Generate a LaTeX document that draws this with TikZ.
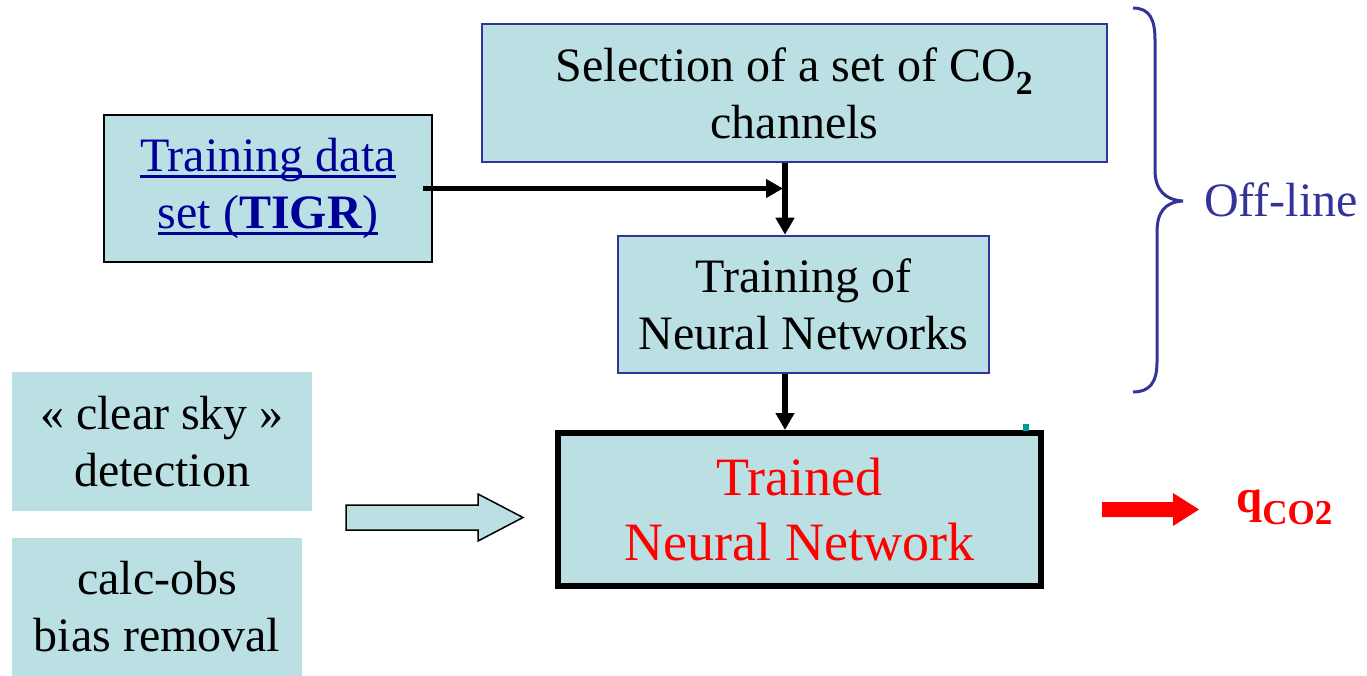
\documentclass[tikz,border=0pt]{standalone}
\usepackage{fontspec}
\setmainfont{Liberation Serif}
\usetikzlibrary{arrows.meta}
\definecolor{boxfill}{RGB}{186,224,228}
\definecolor{boxblue}{RGB}{51,51,153}
\definecolor{linkblue}{RGB}{0,0,153}
\definecolor{tealmark}{RGB}{0,153,153}
\newcommand{\myul}[1]{\setbox0\hbox{#1}\rlap{\rule[-6.5pt]{\wd0}{3pt}}\box0}
\begin{document}
\begin{tikzpicture}[x=1pt,y=-1pt,
  box/.style={draw=boxblue, line width=2.5pt, fill=boxfill, inner sep=0pt, align=center,
    font=\fontsize{48}{57}\selectfont, text=black},
  flow/.style={line width=5.5pt, -{Triangle[length=17pt,width=18pt]}},
  blockarrow/.style={line width=1.5pt, draw=black, fill=boxfill, line join=miter}]
\useasboundingbox (0,0) rectangle (1367,676);

\node[box, draw=black, line width=2pt, minimum width=328pt, minimum height=147pt, text=linkblue]
  (tigr) at (268,188.5) {\myul{Training data}\\\myul{set (\textbf{TIGR})}};
\node[box, minimum width=625pt, minimum height=138pt]
  (sel) at (794.5,93) {Selection of a set of CO\textsubscript{\textbf{2}}\\channels};
\node[box, minimum width=371pt, minimum height=137pt]
  (train) at (803.5,304.5) {Training of\\Neural Networks};
\node[box, draw=black, line width=6pt, minimum width=483pt, minimum height=153pt, text=red,
  font=\fontsize{54}{65}\selectfont]
  (trained) at (799.5,509.5) {Trained\\Neural Network};
\node[box, draw=none, minimum width=300pt, minimum height=139pt]
  (sky) at (162,441.5) {« clear sky »\\detection};
\node[box, draw=none, minimum width=290pt, minimum height=138pt]
  (bias) at (157,607) {calc-obs\\bias removal};

\coordinate (ax) at (785,0);
\draw[flow, shorten >=2pt] ([xshift=-10pt]tigr.east) -- (tigr.east -| ax);
\draw[flow] (sel.south -| ax) -- (train.north -| ax);
\draw[flow] (train.south -| ax) -- (trained.north -| ax);

% hollow block arrow
\draw[blockarrow] (346,505) -- (478,505) -- (478,494) -- (523,517.5) -- (478,541) -- (478,530) -- (346,530) -- cycle;

% red block arrow
\fill[red] (1102,502) -- (1173,502) -- (1173,493) -- (1199,509.5) -- (1173,526) -- (1173,517) -- (1102,517) -- cycle;

\node[anchor=base west, inner sep=0pt, text=red, font=\bfseries\fontsize{47}{47}\selectfont]
  (q) at (1236,512) {q{\fontsize{35}{35}\selectfont\raisebox{-12pt}{CO2}}};

% brace
\draw[boxblue, line width=3pt] (1133,8) .. controls (1150,8) and (1155,20) .. (1155,40) -- (1155,170)
  .. controls (1155,190) and (1165,200) .. (1183,201)
  .. controls (1165,202) and (1157,212) .. (1157,232) -- (1157,362)
  .. controls (1157,382) and (1150,392) .. (1133,392);
\node[anchor=base west, inner sep=0pt, text=boxblue, font=\fontsize{48}{57}\selectfont]
  (offline) at (1204,217) {Off-line};

\fill[tealmark] (1023,424) rectangle (1029,431);
\end{tikzpicture}
\end{document}
